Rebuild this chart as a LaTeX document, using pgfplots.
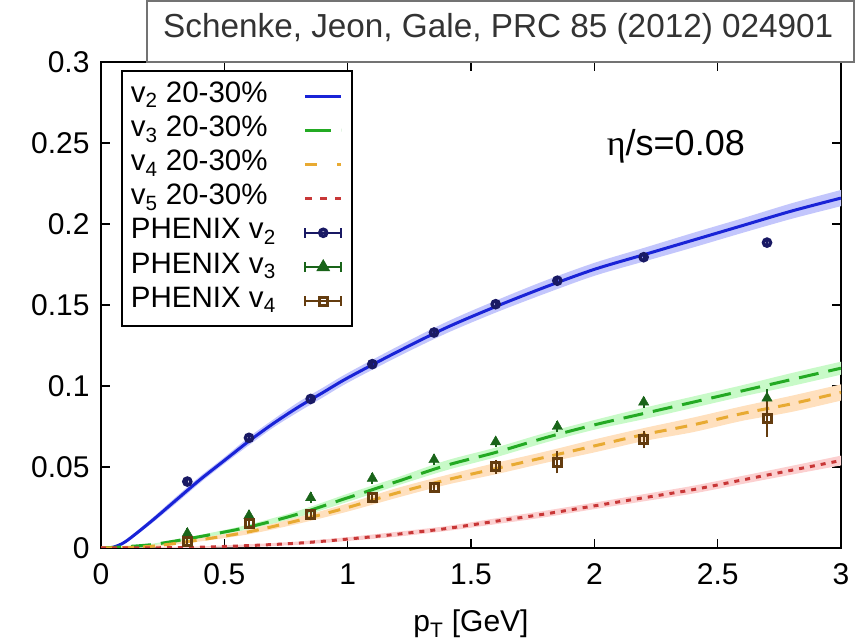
\documentclass[border=0pt]{standalone}
\usepackage{fontspec}
\setmainfont{Liberation Sans}
\newfontfamily\serifg{Liberation Serif}
\usepackage{pgfplots}
\pgfplotsset{compat=1.18}
\usepackage{pgfplotstable}
\usepgfplotslibrary{fillbetween}

\definecolor{cblue}{RGB}{25,35,215}
\definecolor{cblueband}{RGB}{195,198,252}
\definecolor{cgreen}{RGB}{35,170,35}
\definecolor{cgreenband}{RGB}{200,250,200}
\definecolor{corange}{RGB}{232,170,50}
\definecolor{corangeband}{RGB}{255,224,190}
\definecolor{cred}{RGB}{200,55,55}
\definecolor{credband}{RGB}{252,208,208}
\definecolor{cnavy}{RGB}{25,25,100}
\definecolor{cdgreen}{RGB}{25,100,25}
\definecolor{cbrown}{RGB}{100,60,15}

\pgfplotstableread{
x y e
0.00 -0.0015 0.000
0.05 0.0005 0.0005
0.10 0.004 0.001
0.20 0.016 0.0015
0.30 0.029 0.002
0.40 0.042 0.002
0.50 0.054 0.002
0.60 0.066 0.0025
0.70 0.077 0.0025
0.80 0.087 0.003
0.90 0.096 0.003
1.00 0.105 0.003
1.20 0.121 0.0032
1.40 0.136 0.0035
1.60 0.149 0.0037
1.80 0.161 0.004
2.00 0.172 0.004
2.20 0.181 0.0042
2.40 0.190 0.0045
2.60 0.199 0.0045
2.80 0.208 0.0048
3.00 0.216 0.005
}\tvtwo

\pgfplotstableread{
x y e
0.0 0.000 0.000
0.2 0.002 0.0005
0.4 0.007 0.001
0.6 0.013 0.0015
0.8 0.021 0.002
1.0 0.031 0.0025
1.2 0.041 0.0025
1.4 0.051 0.003
1.6 0.059 0.003
1.8 0.068 0.003
2.0 0.076 0.003
2.2 0.083 0.0035
2.4 0.090 0.0035
2.6 0.097 0.0035
2.8 0.104 0.004
3.0 0.111 0.004
}\tvthree

\pgfplotstableread{
x y e
0.0 0.000 0.000
0.2 0.001 0.0005
0.4 0.005 0.001
0.6 0.010 0.0015
0.8 0.017 0.002
1.0 0.025 0.0025
1.2 0.034 0.003
1.4 0.042 0.003
1.6 0.049 0.0035
1.8 0.056 0.0035
2.0 0.063 0.004
2.2 0.070 0.004
2.4 0.076 0.0045
2.6 0.083 0.0045
2.8 0.089 0.005
3.0 0.096 0.005
}\tvfour

\pgfplotstableread{
x y e
0.0 0.000 0.000
0.2 0.0001 0.0003
0.4 0.0005 0.0005
0.6 0.0015 0.0008
0.8 0.003 0.001
1.0 0.0055 0.0012
1.2 0.0085 0.0015
1.4 0.012 0.0015
1.6 0.0165 0.0018
1.8 0.021 0.002
2.0 0.026 0.002
2.2 0.031 0.0022
2.4 0.036 0.0024
2.6 0.042 0.0025
2.8 0.048 0.0027
3.0 0.054 0.003
}\tvfive

\pgfplotstableread{
x y e
0.35 0.041 0.0005
0.60 0.068 0.0005
0.85 0.092 0.0005
1.10 0.1135 0.0005
1.35 0.133 0.0005
1.60 0.1505 0.0005
1.85 0.165 0.0005
2.20 0.1795 0.0005
2.70 0.1885 0.0005
}\pvtwo

\pgfplotstableread{
x y e
0.35 0.009 0.0008
0.60 0.020 0.0008
0.85 0.031 0.0008
1.10 0.043 0.0008
1.35 0.0545 0.0008
1.60 0.0655 0.0008
1.85 0.075 0.001
2.20 0.090 0.001
2.70 0.0925 0.003
}\pvthree

\pgfplotstableread{
x y e
0.35 0.004 0.001
0.60 0.015 0.001
0.85 0.0205 0.001
1.10 0.031 0.001
1.35 0.0375 0.001
1.60 0.050 0.002
1.85 0.053 0.0045
2.20 0.067 0.003
2.70 0.080 0.009
}\pvfour

\begin{document}
\begin{tikzpicture}
% title box
\draw[line width=1.5pt, black!55] (147pt,582pt) rectangle (854pt,643pt);
\node[anchor=base west, inner sep=0pt, text=black!80, font=\fontsize{33.3}{38}\selectfont] at (163pt,606pt) {Schenke, Jeon, Gale, PRC 85 (2012) 024901};

\begin{axis}[
  at={(101pt,96pt)}, anchor=south west,
  scale only axis, width=740pt, height=486pt,
  xmin=0, xmax=3, ymin=0, ymax=0.3,
  xtick={0,0.5,1,1.5,2,2.5,3}, xticklabels={0,0.5,1,1.5,2,2.5,3},
  ytick={0,0.05,0.1,0.15,0.2,0.25,0.3}, yticklabels={0,0.05,0.1,0.15,0.2,0.25,0.3},
  tick align=inside, major tick length=9pt,
  every tick/.style={black, line width=1.5pt},
  axis line style={line width=2.5pt},
  ticklabel style={font=\fontsize{30}{36}\selectfont},
  yticklabel style={xshift=-8pt},
  xticklabel style={yshift=-12pt},
  xlabel={p\textsubscript{T} [GeV]},
  xlabel style={font=\fontsize{30}{36}\selectfont, at={(axis description cs:0.5,0)}, anchor=base, yshift=-84pt},
  legend cell align=left, legend plot pos=right,
  legend style={at={(0.027,0.9835)}, anchor=north west, draw=black, line width=2pt,
    inner xsep=9pt, inner ysep=12pt, row sep=8.2pt, column sep=28pt,
    font=\fontsize{29.5}{34}\selectfont,
    nodes={inner sep=0pt, text height=19pt, text depth=7pt}},
]
% bands
\addplot[name path=v2u, draw=none, forget plot, smooth] table[x=x, y expr=\thisrow{y}+\thisrow{e}] \tvtwo;
\addplot[name path=v2l, draw=none, forget plot, smooth] table[x=x, y expr=\thisrow{y}-\thisrow{e}] \tvtwo;
\addplot[cblueband, forget plot] fill between[of=v2u and v2l];
\addplot[name path=v3u, draw=none, forget plot, smooth] table[x=x, y expr=\thisrow{y}+\thisrow{e}] \tvthree;
\addplot[name path=v3l, draw=none, forget plot, smooth] table[x=x, y expr=\thisrow{y}-\thisrow{e}] \tvthree;
\addplot[cgreenband, forget plot] fill between[of=v3u and v3l];
\addplot[name path=v4u, draw=none, forget plot, smooth] table[x=x, y expr=\thisrow{y}+\thisrow{e}] \tvfour;
\addplot[name path=v4l, draw=none, forget plot, smooth] table[x=x, y expr=\thisrow{y}-\thisrow{e}] \tvfour;
\addplot[corangeband, forget plot] fill between[of=v4u and v4l];
\addplot[name path=v5u, draw=none, forget plot, smooth] table[x=x, y expr=\thisrow{y}+\thisrow{e}] \tvfive;
\addplot[name path=v5l, draw=none, forget plot, smooth] table[x=x, y expr=\thisrow{y}-\thisrow{e}] \tvfive;
\addplot[credband, forget plot] fill between[of=v5u and v5l];

% curves
\addplot[cblue, line width=3pt, smooth, no marks,
  legend image code/.code={\draw[cblue, line width=3pt] (0pt,0pt) -- (36pt,0pt);}]
  table[x=x,y=y] \tvtwo;
\addlegendentry{v\textsubscript{2} 20-30\%}
\addplot[cgreen, line width=3pt, smooth, no marks, dash pattern=on 20pt off 10pt,
  legend image code/.code={\draw[cgreen, line width=3pt, dash pattern=on 26pt off 10pt] (0pt,0pt) -- (36pt,0pt);}]
  table[x=x,y=y] \tvthree;
\addlegendentry{v\textsubscript{3} 20-30\%}
\addplot[corange, line width=3pt, smooth, no marks, dash pattern=on 12pt off 9pt,
  legend image code/.code={\draw[corange, line width=3pt, dash pattern=on 12pt off 20pt] (0pt,0pt) -- (36pt,0pt);}]
  table[x=x,y=y] \tvfour;
\addlegendentry{v\textsubscript{4} 20-30\%}
\addplot[cred, line width=3pt, smooth, no marks, dash pattern=on 5pt off 6pt,
  legend image code/.code={\draw[cred, line width=3pt, dash pattern=on 7pt off 8pt] (0pt,0pt) -- (36pt,0pt);}]
  table[x=x,y=y] \tvfive;
\addlegendentry{v\textsubscript{5} 20-30\%}

% data
\addplot[only marks, cnavy, mark=o, mark size=3.5pt, mark options={line width=3.5pt},
  error bars/.cd, y dir=both, y explicit, error bar style={line width=2pt, cnavy},
  error mark options={line width=2pt, mark size=4pt, cnavy},
  /pgfplots/legend image code/.code={
    \draw[cnavy, line width=2pt] (0pt,0pt) -- (36pt,0pt) (0pt,-5pt) -- (0pt,5pt) (36pt,-5pt) -- (36pt,5pt);
    \draw[cnavy, mark=o, mark size=3.5pt, mark options={line width=3.5pt}] plot coordinates {(18pt,0pt)};}]
  table[x=x,y=y,y error=e] \pvtwo;
\addlegendentry{PHENIX v\textsubscript{2}}
\addplot[only marks, cdgreen, mark=triangle*, mark size=6pt,
  error bars/.cd, y dir=both, y explicit, error bar style={line width=2pt, cdgreen},
  error mark options={line width=2pt, mark size=4pt, cdgreen},
  /pgfplots/legend image code/.code={
    \draw[cdgreen, line width=2pt] (0pt,0pt) -- (36pt,0pt) (0pt,-5pt) -- (0pt,5pt) (36pt,-5pt) -- (36pt,5pt);
    \draw[cdgreen, mark=triangle*, mark size=6pt] plot coordinates {(18pt,0pt)};}]
  table[x=x,y=y,y error=e] \pvthree;
\addlegendentry{PHENIX v\textsubscript{3}}
\addplot[only marks, cbrown, mark=square, mark size=4pt, mark options={line width=3pt},
  error bars/.cd, y dir=both, y explicit, error bar style={line width=2pt, cbrown},
  error mark options={line width=2pt, mark size=4pt, cbrown},
  /pgfplots/legend image code/.code={
    \draw[cbrown, line width=2pt] (0pt,0pt) -- (36pt,0pt) (0pt,-5pt) -- (0pt,5pt) (36pt,-5pt) -- (36pt,5pt);
    \draw[cbrown, mark=square, mark size=4pt, mark options={line width=3pt}] plot coordinates {(18pt,0pt)};}]
  table[x=x,y=y,y error=e] \pvfour;
\addlegendentry{PHENIX v\textsubscript{4}}

\node[anchor=west, inner sep=0pt, font=\fontsize{36}{42}\selectfont] at (axis cs:2.05,0.248) {{\serifg η}/s=0.08};
\end{axis}
\pgfresetboundingbox
\path (0pt,0pt) rectangle (866pt,644pt);
\end{tikzpicture}
\end{document}
